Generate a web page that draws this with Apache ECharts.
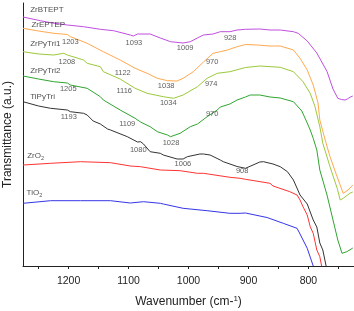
<!DOCTYPE html>
<html><head><meta charset="utf-8">
<script src="https://cdn.jsdelivr.net/npm/echarts@6/dist/echarts.min.js"></script>
<style>html,body{margin:0;padding:0;background:#fff}#c{width:354px;height:311px}</style>
</head><body><div id="c"></div>
<script>
const FONT = 'Liberation Sans, Arial, sans-serif';

const xTickValues = [750, 800, 850, 900, 950, 1000, 1050, 1100, 1150, 1200, 1250];
const xLabelValues = [800, 900, 1000, 1100, 1200];

const seriesNames = ['ZrBTEPT', 'ZrEPTEP', 'ZrPyTri1', 'ZrPyTri2', 'TiPyTri', 'ZrO2', 'TiO2'];
const seriesLabels = ['ZrBTEPT', 'ZrEPTEP', 'ZrPyTri1', 'ZrPyTri2', 'TiPyTri', 'ZrO{sub|2}', 'TiO{sub|2}'];
const seriesColors = ['#c04fe0', '#ffa94f', '#9cc93c', '#30a530', '#333333', '#ff3333', '#3535e8'];
const seriesLabelPosX = [1264, 1262, 1264, 1264, 1264, 1269, 1270];
const seriesLabelPosY = [256, 241, 222, 195, 169, 110, 73];

const zrbtept = [[1276,249],[1247,245.3],[1230,243.3],[1202,241],[1175,239.3],[1147,236.7],[1125,235.3],[1097,231],[1092,230],[1085,232],[1064,232],[1047,228],[1030,224.3],[1014,223.3],[1009,223],[997,224.3],[981,229.3],[975,231],[959,232],[947,234.3],[931,234.3],[919,236],[905,236.7],[881,237],[864,236],[847,236],[825,234.3],[817,232.7],[802,225],[786,213],[769,194.5],[759,177],[751,167.7],[745,166.5],[739,166],[735,167],[731,168.7],[726,170]];
const zreptep = [[1276,237.7],[1250,235],[1225,232.7],[1202,231.5],[1197,229.3],[1169,222.7],[1142,214.3],[1114,206],[1089,197.7],[1069,192.7],[1052,187.7],[1035,185.3],[1019,185],[1009,187.7],[992,194.3],[975,204],[959,212.7],[947,214.3],[935,216],[919,219.3],[905,221.5],[885,221],[864,220],[847,220],[825,216],[814,207.7],[802,196],[792,181],[784,163],[781,146],[772,126],[764,109.3],[752,89],[742,72.7],[734,76],[726,81]];
const zrpytri1 = [[1276,214.3],[1250,212],[1225,211],[1208,212.7],[1202,211],[1175,206],[1169,202.7],[1147,199.3],[1142,194.3],[1114,187],[1089,177.7],[1069,172.7],[1042,169.3],[1025,167.7],[1009,171],[985,179.3],[969,187.7],[952,192.7],[931,194.3],[905,198.5],[881,200],[847,198.7],[825,194.3],[809,184.3],[797,172.7],[789,159.3],[781,139.3],[776,122.7],[764,99.3],[752,77.7],[747,66],[742,67.7],[731,72.7],[726,74]];
const zrpytri2 = [[1276,190],[1250,187],[1225,184.3],[1202,183],[1197,181],[1169,177.7],[1147,169.3],[1142,166],[1114,156],[1089,147.7],[1080,144],[1064,139.3],[1052,134.3],[1035,131],[1030,129.3],[1014,132.7],[997,139.3],[985,142],[969,149.3],[952,156],[947,159],[931,162],[919,166],[905,169],[897,171],[881,171],[864,169],[847,168],[825,164.3],[811,155],[802,143],[797,136],[792,127.7],[786,116],[781,96],[769,71],[759,46],[751,26],[744,12.7],[736,14.3],[726,18]];
const tipytri = [[1276,164.3],[1250,160],[1230,157.7],[1202,156],[1197,154.3],[1175,152.7],[1169,151],[1159,145],[1147,142],[1135,137],[1130,136],[1102,129.3],[1085,124],[1080,124.3],[1075,122],[1064,114.3],[1047,112.7],[1042,111],[1019,107],[1009,107],[1002,109.3],[981,112],[975,112],[964,111],[947,106],[942,104.3],[919,99.5],[905,97.7],[881,104],[875,104.3],[859,102],[847,99.3],[835,94.3],[831,91],[825,86],[814,71],[802,62],[792,46],[786,39],[781,23],[776,16],[770.5,0]];
const zro2 = [[1276,101],[1230,102.7],[1180,104.3],[1130,103.3],[1097,100],[1080,99.3],[1047,96],[1014,95.3],[985,92.7],[975,92.7],[931,88.7],[914,87.7],[905,86.7],[864,82.7],[859,80],[831,74.3],[819,71],[814,66],[809,59.3],[802,51],[797,39.3],[792,32.7],[786,16],[781,9.3],[778,0]];
const tio2 = [[1276,62.7],[1230,65.3],[1180,65.3],[1130,65.3],[1097,63],[1075,64.3],[1047,62.7],[1042,62],[1009,57.7],[969,55.3],[931,52.7],[914,52.7],[905,53],[869,48.5],[842,42.7],[819,37.7],[814,32],[802,17.7],[792,0]];
const seriesData = [zrbtept, zreptep, zrpytri1, zrpytri2, tipytri, zro2, tio2];

const peakText = ['1203','1093','1009','928','1208','1122','1038','970','1205','1116','974','1034','1193','1109','970','1028','1080','1006','908'];
const peakX = [1197,1091,1005.5,930.5,1202.7,1109.7,1037.2,960.5,1200.5,1107.2,962.2,1033.8,1199.7,1102.2,960.5,1029.2,1083.8,1009.3,910.5];
const peakY = [224.3,222.7,217.7,227.7,204.3,193.3,180,204.3,176.7,175.3,181.7,162.7,148.7,141.7,151.7,123.3,116,102.3,95.3];

const chart = echarts.init(document.getElementById('c'), null, {renderer: 'canvas'});

const series = seriesData.map((d, i) => ({
  name: seriesNames[i], type: 'line', data: d, showSymbol: false, symbol: 'none',
  lineStyle: {color: seriesColors[i], width: 1}, silent: true, z: 2
}));
series.push({
  type: 'scatter', symbolSize: 0, silent: true, z: 5,
  data: seriesLabels.map((t, i) => ({value: [seriesLabelPosX[i], seriesLabelPosY[i]], name: t})),
  label: {show: true, position: 'inside', align: 'left', verticalAlign: 'middle',
    formatter: p => p.name, color: '#222', fontFamily: FONT, fontSize: 8,
    rich: {sub: {fontSize: 5.5, verticalAlign: 'bottom', padding: [5, 0, 0, 0], fontFamily: FONT, color: '#222'}}}
});
series.push({
  type: 'scatter', symbolSize: 0, silent: true, z: 5,
  data: peakText.map((t, i) => ({value: [peakX[i], peakY[i]], name: t})),
  label: {show: true, position: 'inside', align: 'center', verticalAlign: 'middle',
    formatter: p => p.name, color: '#333', fontFamily: FONT, fontSize: 7.5}
});

chart.setOption({
  animation: false,
  backgroundColor: '#fff',
  grid: {left: 23, right: 0, top: 3, bottom: 45, containLabel: false, outerBoundsMode: 'none'},
  xAxis: {
    type: 'value', inverse: true, min: 724, max: 1276,
    name: 'Wavenumber (cm-{sup|1})', nameLocation: 'middle', nameGap: 29,
    nameTextStyle: {fontFamily: FONT, fontSize: 12, color: '#222',
      rich: {sup: {fontSize: 8, verticalAlign: 'top', padding: [0, 0, 6, 0], fontFamily: FONT, color: '#222'}}},
    axisLine: {show: true, onZero: false, lineStyle: {color: '#222', width: 1}},
    axisTick: {show: true, inside: false, length: 3, customValues: xTickValues, lineStyle: {color: '#222'}},
    axisLabel: {customValues: xLabelValues, formatter: v => String(v), fontFamily: FONT, fontSize: 10.5, color: '#222', margin: 10},
    splitLine: {show: false}
  },
  yAxis: {
    type: 'value', min: 0, max: 263,
    name: 'Transmittance (a.u.)', nameLocation: 'middle', nameGap: 9,
    nameTextStyle: {fontFamily: FONT, fontSize: 12, color: '#222'},
    axisLine: {show: true, onZero: false, lineStyle: {color: '#222', width: 1}},
    axisTick: {show: false}, axisLabel: {show: false}, splitLine: {show: false}
  },
  series: series
});
</script>
</body></html>
